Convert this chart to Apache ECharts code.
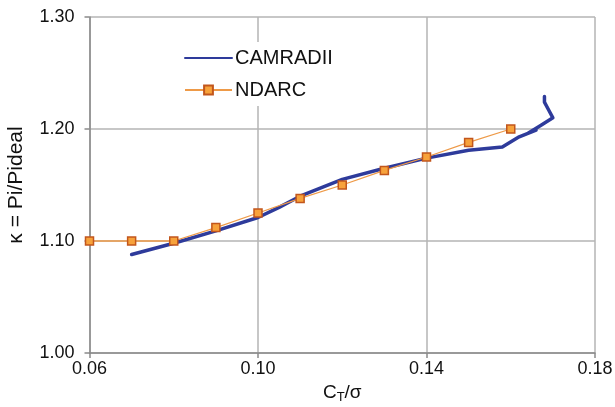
<!DOCTYPE html>
<html>
<head>
<meta charset="utf-8">
<script src="https://cdn.jsdelivr.net/npm/echarts@6/dist/echarts.min.js"></script>
<style>html,body{margin:0;padding:0;background:#fff}#c{width:615px;height:407px}</style>
</head>
<body>
<div id="c"></div>
<script>
// ---- data ----
const camX = [0.070, 0.080, 0.090, 0.100, 0.105, 0.110, 0.120, 0.130, 0.140, 0.150, 0.158, 0.162, 0.166, 0.164, 0.167, 0.170, 0.169, 0.168, 0.168];
const camY = [1.088, 1.098, 1.109, 1.121, 1.130, 1.140, 1.155, 1.165, 1.174, 1.181, 1.184, 1.193, 1.199, 1.196, 1.203, 1.210, 1.217, 1.224, 1.229];
const ndX = [0.06, 0.07, 0.08, 0.09, 0.10, 0.11, 0.12, 0.13, 0.14, 0.15, 0.16];
const ndY = [1.100, 1.100, 1.100, 1.112, 1.125, 1.138, 1.150, 1.163, 1.175, 1.188, 1.200];
const xTicks = [0.06, 0.10, 0.14, 0.18];
const yTicks = [1.00, 1.10, 1.20, 1.30];
const seriesNames = ['CAMRADII', 'NDARC'];

const FONT = "'Liberation Sans', Arial, sans-serif";
const chart = echarts.init(document.getElementById('c'), null, {renderer: 'canvas'});
const pair = (xs, ys) => xs.map((x, i) => [x, ys[i]]);

chart.setOption({
  animation: false,
  backgroundColor: '#fff',
  textStyle: {fontFamily: FONT},
  grid: {left: 89.5, right: 20, top: 17, bottom: 54, containLabel: false, outerBoundsMode: 'none'},
  legend: {
    orient: 'vertical', left: 176, top: 42,
    data: [
      {name: seriesNames[0], itemStyle: {opacity: 0}},
      {name: seriesNames[1]}
    ],
    itemWidth: 47, itemHeight: 11, itemGap: 12,
    backgroundColor: '#fff', padding: [6, 10, 6, 8],
    textStyle: {fontSize: 20, color: '#111', fontFamily: FONT, padding: [0, 0, 0, -2]}
  },
  xAxis: {
    type: 'value', min: xTicks[0], max: xTicks[xTicks.length - 1],
    name: 'C{sub|T}/σ', nameLocation: 'middle', nameGap: 25,
    nameTextStyle: {
      fontSize: 19, color: '#111', fontFamily: FONT,
      rich: {sub: {fontSize: 13, color: '#111', fontFamily: FONT, padding: [10, 0, 0, 0]}}
    },
    axisLine: {show: true, lineStyle: {color: '#8a8a8a', width: 1.5}},
    axisTick: {show: true, inside: false, length: 5, customValues: xTicks, lineStyle: {color: '#8a8a8a', width: 1.5}},
    axisLabel: {customValues: xTicks, fontSize: 18, color: '#111', margin: 7, fontFamily: FONT,
      formatter: v => v.toFixed(2)},
    splitLine: {show: true, lineStyle: {color: '#b4b4b4', width: 1.5}}
  },
  yAxis: {
    type: 'value', min: yTicks[0], max: yTicks[yTicks.length - 1], interval: 0.1,
    name: 'κ = Pi/Pideal', nameLocation: 'middle', nameGap: 63,
    nameTextStyle: {fontSize: 21, color: '#111', fontFamily: FONT},
    axisLine: {show: true, lineStyle: {color: '#8a8a8a', width: 1.5}},
    axisTick: {show: true, inside: false, length: 5, lineStyle: {color: '#8a8a8a', width: 1.5}},
    axisLabel: {fontSize: 18, color: '#111', margin: 15, fontFamily: FONT,
      formatter: v => v.toFixed(2)},
    splitLine: {show: true, lineStyle: {color: '#b4b4b4', width: 1.5}}
  },
  series: [
    {
      name: seriesNames[0], type: 'line', data: pair(camX, camY),
      symbol: 'none', showSymbol: false,
      lineStyle: {color: '#2E3B9B', width: 3.5, join: 'round', cap: 'round'},
      itemStyle: {color: '#2E3B9B'}, z: 2
    },
    {
      name: seriesNames[1], type: 'line', data: pair(ndX, ndY),
      symbol: 'rect', symbolSize: 8,
      lineStyle: {color: '#EE9A48', width: 1.3},
      itemStyle: {color: '#F7A23B', borderColor: '#C2561C', borderWidth: 1.5}, z: 3
    }
  ]
});
</script>
</body>
</html>
